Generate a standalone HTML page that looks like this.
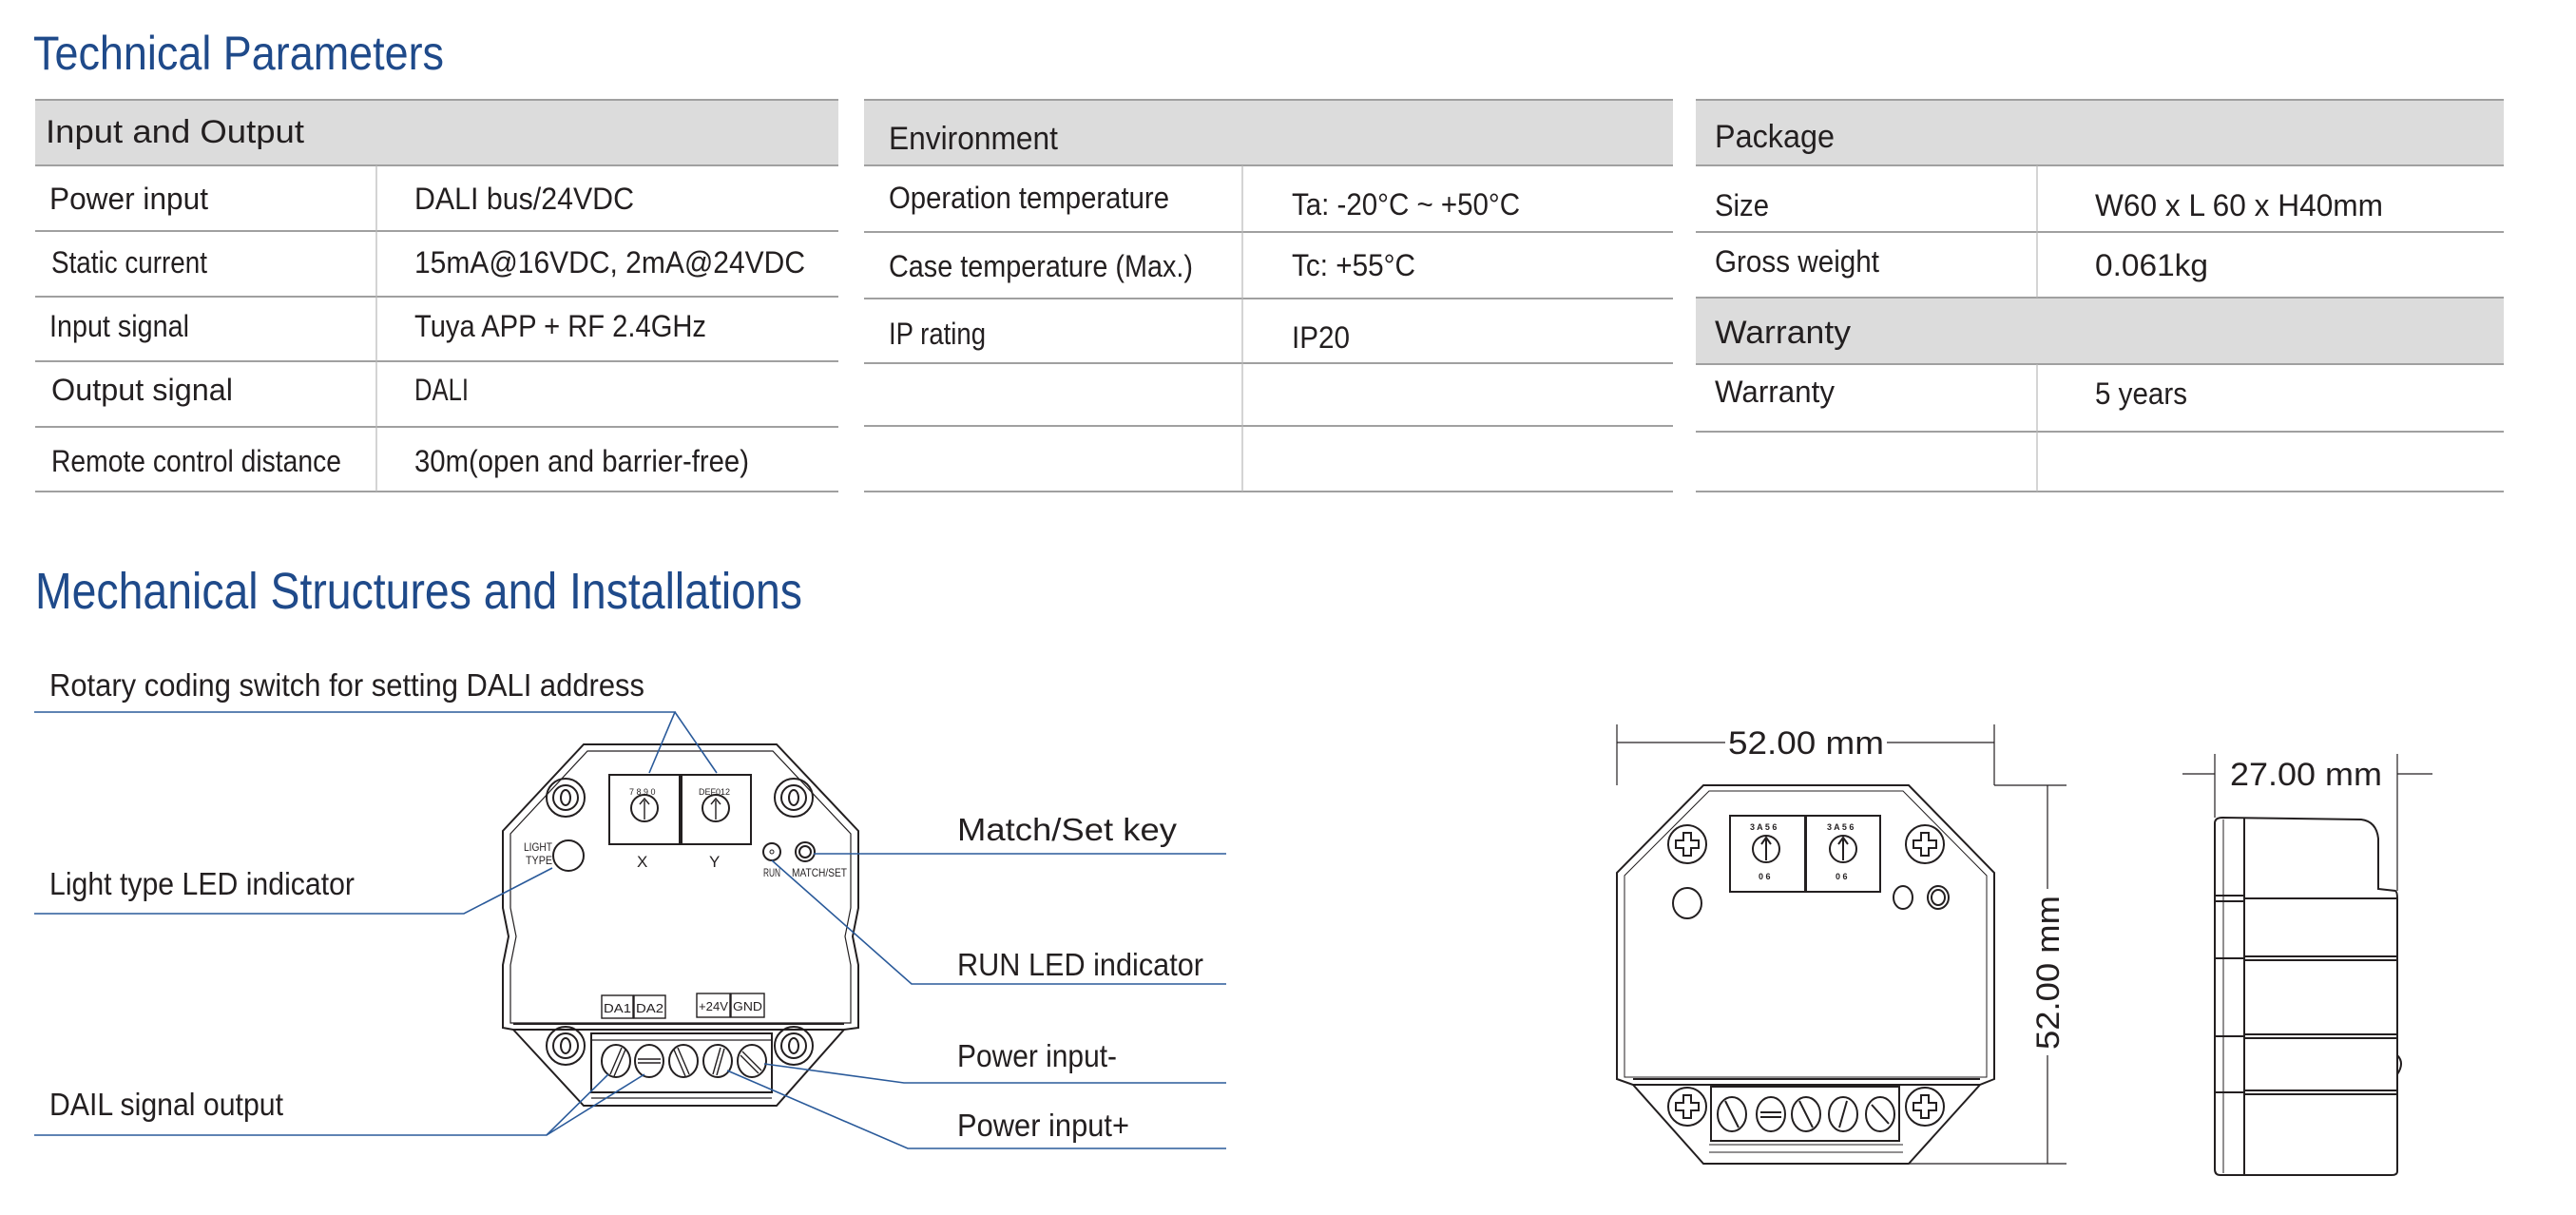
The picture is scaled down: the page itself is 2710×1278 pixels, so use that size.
<!DOCTYPE html>
<html><head><meta charset="utf-8"><style>
html,body{margin:0;padding:0;background:#fff;}
svg{display:block;}
.t{font-family:"Liberation Sans",sans-serif;fill:#231f20;}
.h{font-family:"Liberation Sans",sans-serif;fill:#1f4a8a;}
.d{stroke:#231f20;fill:none;stroke-width:2;}
.l{stroke:#2a5a9a;fill:none;stroke-width:1.6;}
.g{stroke:#a0a0a0;stroke-width:2;}
.gt{stroke:#b8b8b8;stroke-width:1.2;}
</style></head><body>
<svg width="2710" height="1278" viewBox="0 0 2710 1278" xmlns="http://www.w3.org/2000/svg">
<rect width="2710" height="1278" fill="#fff"/>
<!-- Titles -->
<text class="h" x="35" y="73" font-size="50" textLength="432" lengthAdjust="spacingAndGlyphs">Technical Parameters</text>
<text class="h" x="37" y="640" font-size="54" textLength="807" lengthAdjust="spacingAndGlyphs">Mechanical Structures and Installations</text>

<!-- Table 1 -->
<rect x="37" y="105" width="845" height="69" fill="#dcdcdc"/>
<g class="g"><line x1="37" y1="105" x2="882" y2="105"/><line x1="37" y1="174" x2="882" y2="174"/>
<line x1="37" y1="243" x2="882" y2="243"/><line x1="37" y1="312" x2="882" y2="312"/><line x1="37" y1="380" x2="882" y2="380"/><line x1="37" y1="449" x2="882" y2="449"/><line x1="37" y1="517" x2="882" y2="517"/></g>
<line class="gt" x1="396" y1="174" x2="396" y2="517"/>
<g class="t" font-size="32">
<text x="48" y="150" font-size="34" textLength="272" lengthAdjust="spacingAndGlyphs">Input and Output</text>
<text x="52" y="220" textLength="167" lengthAdjust="spacingAndGlyphs">Power input</text>
<text x="436" y="220" textLength="231" lengthAdjust="spacingAndGlyphs">DALI bus/24VDC</text>
<text x="54" y="287" textLength="164" lengthAdjust="spacingAndGlyphs">Static current</text>
<text x="436" y="287" textLength="411" lengthAdjust="spacingAndGlyphs">15mA@16VDC, 2mA@24VDC</text>
<text x="52" y="354" textLength="147" lengthAdjust="spacingAndGlyphs">Input signal</text>
<text x="436" y="354" textLength="307" lengthAdjust="spacingAndGlyphs">Tuya APP + RF 2.4GHz</text>
<text x="54" y="421" textLength="191" lengthAdjust="spacingAndGlyphs">Output signal</text>
<text x="436" y="421" textLength="57" lengthAdjust="spacingAndGlyphs">DALI</text>
<text x="54" y="496" textLength="305" lengthAdjust="spacingAndGlyphs">Remote control distance</text>
<text x="436" y="496" textLength="352" lengthAdjust="spacingAndGlyphs">30m(open and barrier-free)</text>
</g>

<!-- Table 2 -->
<rect x="909" y="105" width="851" height="69" fill="#dcdcdc"/>
<g class="g"><line x1="909" y1="105" x2="1760" y2="105"/><line x1="909" y1="174" x2="1760" y2="174"/>
<line x1="909" y1="244" x2="1760" y2="244"/><line x1="909" y1="314" x2="1760" y2="314"/><line x1="909" y1="382" x2="1760" y2="382"/><line x1="909" y1="448" x2="1760" y2="448"/><line x1="909" y1="517" x2="1760" y2="517"/></g>
<line class="gt" x1="1307" y1="174" x2="1307" y2="517"/>
<g class="t" font-size="32">
<text x="935" y="157" font-size="34" textLength="178" lengthAdjust="spacingAndGlyphs">Environment</text>
<text x="935" y="219" textLength="295" lengthAdjust="spacingAndGlyphs">Operation temperature</text>
<text x="1359" y="226" textLength="240" lengthAdjust="spacingAndGlyphs">Ta: -20°C ~ +50°C</text>
<text x="935" y="291" textLength="320" lengthAdjust="spacingAndGlyphs">Case temperature (Max.)</text>
<text x="1359" y="290" textLength="130" lengthAdjust="spacingAndGlyphs">Tc: +55°C</text>
<text x="935" y="362" textLength="102" lengthAdjust="spacingAndGlyphs">IP rating</text>
<text x="1359" y="366" textLength="61" lengthAdjust="spacingAndGlyphs">IP20</text>
</g>

<!-- Table 3 -->
<rect x="1784" y="105" width="850" height="69" fill="#dcdcdc"/>
<rect x="1784" y="313" width="850" height="70" fill="#dcdcdc"/>
<g class="g"><line x1="1784" y1="105" x2="2634" y2="105"/><line x1="1784" y1="174" x2="2634" y2="174"/>
<line x1="1784" y1="244" x2="2634" y2="244"/><line x1="1784" y1="313" x2="2634" y2="313"/><line x1="1784" y1="383" x2="2634" y2="383"/><line x1="1784" y1="454" x2="2634" y2="454"/><line x1="1784" y1="517" x2="2634" y2="517"/></g>
<line class="gt" x1="2143" y1="174" x2="2143" y2="313"/>
<line class="gt" x1="2143" y1="383" x2="2143" y2="517"/>
<g class="t" font-size="32">
<text x="1804" y="155" font-size="34" textLength="126" lengthAdjust="spacingAndGlyphs">Package</text>
<text x="1804" y="227" textLength="57" lengthAdjust="spacingAndGlyphs">Size</text>
<text x="2204" y="227" textLength="303" lengthAdjust="spacingAndGlyphs">W60 x L 60 x H40mm</text>
<text x="1804" y="286" textLength="173" lengthAdjust="spacingAndGlyphs">Gross weight</text>
<text x="2204" y="290" textLength="119" lengthAdjust="spacingAndGlyphs">0.061kg</text>
<text x="1804" y="361" font-size="34" textLength="143" lengthAdjust="spacingAndGlyphs">Warranty</text>
<text x="1804" y="423" textLength="126" lengthAdjust="spacingAndGlyphs">Warranty</text>
<text x="2204" y="425" textLength="97" lengthAdjust="spacingAndGlyphs">5 years</text>
</g>

<!-- Left device drawing -->
<g class="d">
<path d="M614,783 L817,783 L903,874 L903,955 L897,985 L903,1015 L903,1081 L888,1083 L817,1163 L614,1163 L540,1083 L529,1081 L529,1015 L535,985 L529,955 L529,874 Z"/>
<path d="M618,790 L813,790 L895,877 L895,955 L889,985 L895,1015 L895,1076 L537,1076 L537,1015 L543,985 L537,955 L537,877 Z" stroke-width="1.2"/>
<line x1="540" y1="1077" x2="888" y2="1077"/><line x1="540" y1="1083" x2="888" y2="1083"/>
<circle cx="595" cy="839" r="20"/><circle cx="595" cy="839" r="13"/><ellipse cx="595" cy="839" rx="5" ry="8"/>
<circle cx="835" cy="839" r="20"/><circle cx="835" cy="839" r="13"/><ellipse cx="835" cy="839" rx="5" ry="8"/>
<circle cx="595" cy="1100" r="20"/><circle cx="595" cy="1100" r="13"/><ellipse cx="595" cy="1100" rx="5" ry="8"/>
<circle cx="835" cy="1100" r="20"/><circle cx="835" cy="1100" r="13"/><ellipse cx="835" cy="1100" rx="5" ry="8"/>
<rect x="641" y="815" width="74" height="73"/><rect x="717" y="815" width="73" height="73"/>
<circle cx="678" cy="850" r="14"/><circle cx="753" cy="850" r="14"/>
<path d="M678,862 L678,842 M673,846 L678,840 L683,846 M753,862 L753,842 M748,846 L753,840 L758,846" stroke-width="1.4"/>
<circle cx="598" cy="900" r="16"/>
<circle cx="812" cy="896" r="9"/><circle cx="812" cy="896" r="2" stroke-width="1"/>
<circle cx="847" cy="896" r="10"/><circle cx="847" cy="896" r="6"/>
<rect x="633" y="1047" width="33" height="24" stroke-width="1.4"/><rect x="667" y="1047" width="33" height="24" stroke-width="1.4"/>
<rect x="733" y="1045" width="35" height="25" stroke-width="1.4"/><rect x="769" y="1045" width="35" height="25" stroke-width="1.4"/>
<rect x="622" y="1087" width="190" height="62"/>
<line x1="622" y1="1094" x2="812" y2="1094" stroke-width="1.2"/>
<line x1="622" y1="1155" x2="812" y2="1155" stroke-width="1.2"/>
<ellipse cx="648" cy="1116" rx="15" ry="17"/><ellipse cx="683" cy="1116" rx="15" ry="17"/><ellipse cx="719" cy="1116" rx="15" ry="17"/><ellipse cx="755" cy="1116" rx="15" ry="17"/><ellipse cx="791" cy="1116" rx="15" ry="17"/>
<path d="M642,1130 L654,1102 M646,1132 L658,1104 M671,1114 L695,1114 M671,1118 L695,1118 M713,1102 L725,1130 M709,1104 L721,1132 M750,1130 L758,1102 M754,1131 L762,1103 M781,1106 L801,1126 M779,1110 L798,1129" stroke-width="1.4"/>
</g>
<g class="t" font-size="12">
<text x="551" y="895" textLength="30" lengthAdjust="spacingAndGlyphs">LIGHT</text>
<text x="553" y="909" textLength="28" lengthAdjust="spacingAndGlyphs">TYPE</text>
<text x="670" y="912" font-size="17">X</text><text x="746" y="912" font-size="17">Y</text>
<text x="803" y="922" textLength="18" lengthAdjust="spacingAndGlyphs">RUN</text>
<text x="833" y="922" textLength="58" lengthAdjust="spacingAndGlyphs">MATCH/SET</text>
<text x="635" y="1065" font-size="13" textLength="29" lengthAdjust="spacingAndGlyphs">DA1</text>
<text x="669" y="1065" font-size="13" textLength="29" lengthAdjust="spacingAndGlyphs">DA2</text>
<text x="735" y="1063" font-size="13" textLength="31" lengthAdjust="spacingAndGlyphs">+24V</text>
<text x="771" y="1063" font-size="13" textLength="31" lengthAdjust="spacingAndGlyphs">GND</text>
<text x="662" y="836" font-size="9">7 8 9 0</text>
<text x="735" y="836" font-size="9">DEF012</text>
</g>

<!-- Leader lines -->
<g class="l">
<polyline points="36,749 710,749 683,813"/><line x1="710" y1="749" x2="754" y2="813"/>
<polyline points="1290,898 856,898"/>
<polyline points="36,961 488,961 581,913"/>
<polyline points="1290,1035 959,1035 812,905"/>
<polyline points="1290,1139 951,1139 804,1119"/>
<polyline points="1290,1208 955,1208 765,1126"/>
<polyline points="36,1194 575,1194 640,1130"/><line x1="575" y1="1194" x2="678" y2="1130"/>
</g>
<g class="t" font-size="33">
<text x="52" y="732" textLength="626" lengthAdjust="spacingAndGlyphs">Rotary coding switch for setting DALI address</text>
<text x="1007" y="884" textLength="231" lengthAdjust="spacingAndGlyphs">Match/Set key</text>
<text x="52" y="941" textLength="321" lengthAdjust="spacingAndGlyphs">Light type LED indicator</text>
<text x="1007" y="1026" textLength="259" lengthAdjust="spacingAndGlyphs">RUN LED indicator</text>
<text x="1007" y="1122" textLength="168" lengthAdjust="spacingAndGlyphs">Power input-</text>
<text x="1007" y="1195" textLength="181" lengthAdjust="spacingAndGlyphs">Power input+</text>
<text x="52" y="1173" textLength="246" lengthAdjust="spacingAndGlyphs">DAIL signal output</text>
</g>

<!-- Right front view -->
<g class="d" stroke-width="1.6">
<path d="M1792,826 L2008,826 L2098,918 L2098,1135 L2083,1141 L2008,1224 L1792,1224 L1718,1141 L1701,1135 L1701,918 Z"/>
<path d="M1798,832 L2002,832 L2090,921 L2090,1133 L1709,1133 L1709,921 Z" stroke-width="1"/>
<line x1="1718" y1="1135" x2="2083" y2="1135"/><line x1="1718" y1="1141" x2="2083" y2="1141"/>
<line x1="1798" y1="1204" x2="2002" y2="1204" stroke-width="1"/>
<line x1="1798" y1="1212" x2="2002" y2="1212" stroke-width="1"/>
<rect x="1820" y="858" width="79" height="80"/><rect x="1900" y="858" width="78" height="80"/>
<circle cx="1858" cy="893" r="14"/><circle cx="1939" cy="893" r="14"/>
<path d="M1858,905 L1858,883 M1853,888 L1858,881 L1863,888 M1939,905 L1939,883 M1934,888 L1939,881 L1944,888"/>
<circle cx="1775" cy="888" r="20"/><circle cx="2025" cy="888" r="20"/><circle cx="1775" cy="1164" r="20"/><circle cx="2025" cy="1164" r="20"/>
<path d="M1771,876 h8 v8 h8 v8 h-8 v8 h-8 v-8 h-8 v-8 h8 Z M2021,876 h8 v8 h8 v8 h-8 v8 h-8 v-8 h-8 v-8 h8 Z M1771,1152 h8 v8 h8 v8 h-8 v8 h-8 v-8 h-8 v-8 h8 Z M2021,1152 h8 v8 h8 v8 h-8 v8 h-8 v-8 h-8 v-8 h8 Z"/>
<ellipse cx="1775" cy="950" rx="15" ry="16"/>
<ellipse cx="2002" cy="944" rx="10" ry="12"/><ellipse cx="2039" cy="944" rx="11" ry="12"/><ellipse cx="2039" cy="944" rx="7" ry="8"/>
<rect x="1800" y="1143" width="198" height="57"/>
<ellipse cx="1822" cy="1172" rx="15" ry="18"/><ellipse cx="1863" cy="1172" rx="15" ry="18"/><ellipse cx="1900" cy="1172" rx="15" ry="18"/><ellipse cx="1939" cy="1172" rx="15" ry="18"/><ellipse cx="1978" cy="1172" rx="15" ry="18"/>
<path d="M1815,1158 L1829,1186 M1852,1170 L1874,1170 M1852,1175 L1874,1175 M1893,1158 L1907,1186 M1935,1186 L1943,1158 M1969,1162 L1987,1182"/>
</g>
<g class="t" font-size="9" font-weight="bold">
<text x="1841" y="873">3 A 5 6</text><text x="1922" y="873">3 A 5 6</text>
<text x="1850" y="925">0 6</text><text x="1931" y="925">0 6</text>
</g>
<!-- dimensions -->
<g stroke="#231f20" stroke-width="1.2" fill="none">
<line x1="1701" y1="762" x2="1701" y2="826"/><line x1="2098" y1="762" x2="2098" y2="826"/>
<line x1="1701" y1="781" x2="1815" y2="781"/><line x1="1985" y1="781" x2="2098" y2="781"/>
<line x1="2098" y1="826" x2="2174" y2="826"/><line x1="2008" y1="1224" x2="2174" y2="1224"/>
<line x1="2154" y1="826" x2="2154" y2="935"/><line x1="2154" y1="1110" x2="2154" y2="1224"/>
<line x1="2330" y1="793" x2="2330" y2="860"/><line x1="2522" y1="793" x2="2522" y2="937"/>
<line x1="2296" y1="814" x2="2330" y2="814"/><line x1="2522" y1="814" x2="2559" y2="814"/>
</g>
<g class="t" font-size="34">
<text x="1900" y="793" text-anchor="middle" textLength="164" lengthAdjust="spacingAndGlyphs">52.00 mm</text>
<text x="2426" y="826" text-anchor="middle" textLength="160" lengthAdjust="spacingAndGlyphs">27.00 mm</text>
<text transform="translate(2166,1023) rotate(-90)" text-anchor="middle" textLength="162" lengthAdjust="spacingAndGlyphs">52.00 mm</text>
</g>

<!-- Side view -->
<g class="d" stroke-width="1.6">
<path d="M2338,860 L2484,862 Q2500,864 2502,882 L2502,935 L2520,937 Q2522,938 2522,945 L2522,1232 Q2522,1236 2516,1236 L2336,1236 Q2330,1236 2330,1230 L2330,866 Q2330,860 2338,860 Z"/>
<line x1="2339" y1="862" x2="2339" y2="1234" stroke-width="1"/>
<line x1="2361" y1="861" x2="2361" y2="1236"/>
<path d="M2361,945 L2522,945 M2330,942 L2361,942 M2330,948 L2361,948 M2361,1006 L2522,1006 M2361,1010 L2522,1010 M2330,1008 L2361,1008 M2361,1088 L2522,1088 M2361,1092 L2522,1092 M2330,1090 L2361,1090 M2361,1147 L2522,1147 M2361,1151 L2522,1151 M2330,1149 L2361,1149"/>
<path d="M2522,1110 Q2530,1118 2522,1130"/>
</g>
</svg>
</body></html>
